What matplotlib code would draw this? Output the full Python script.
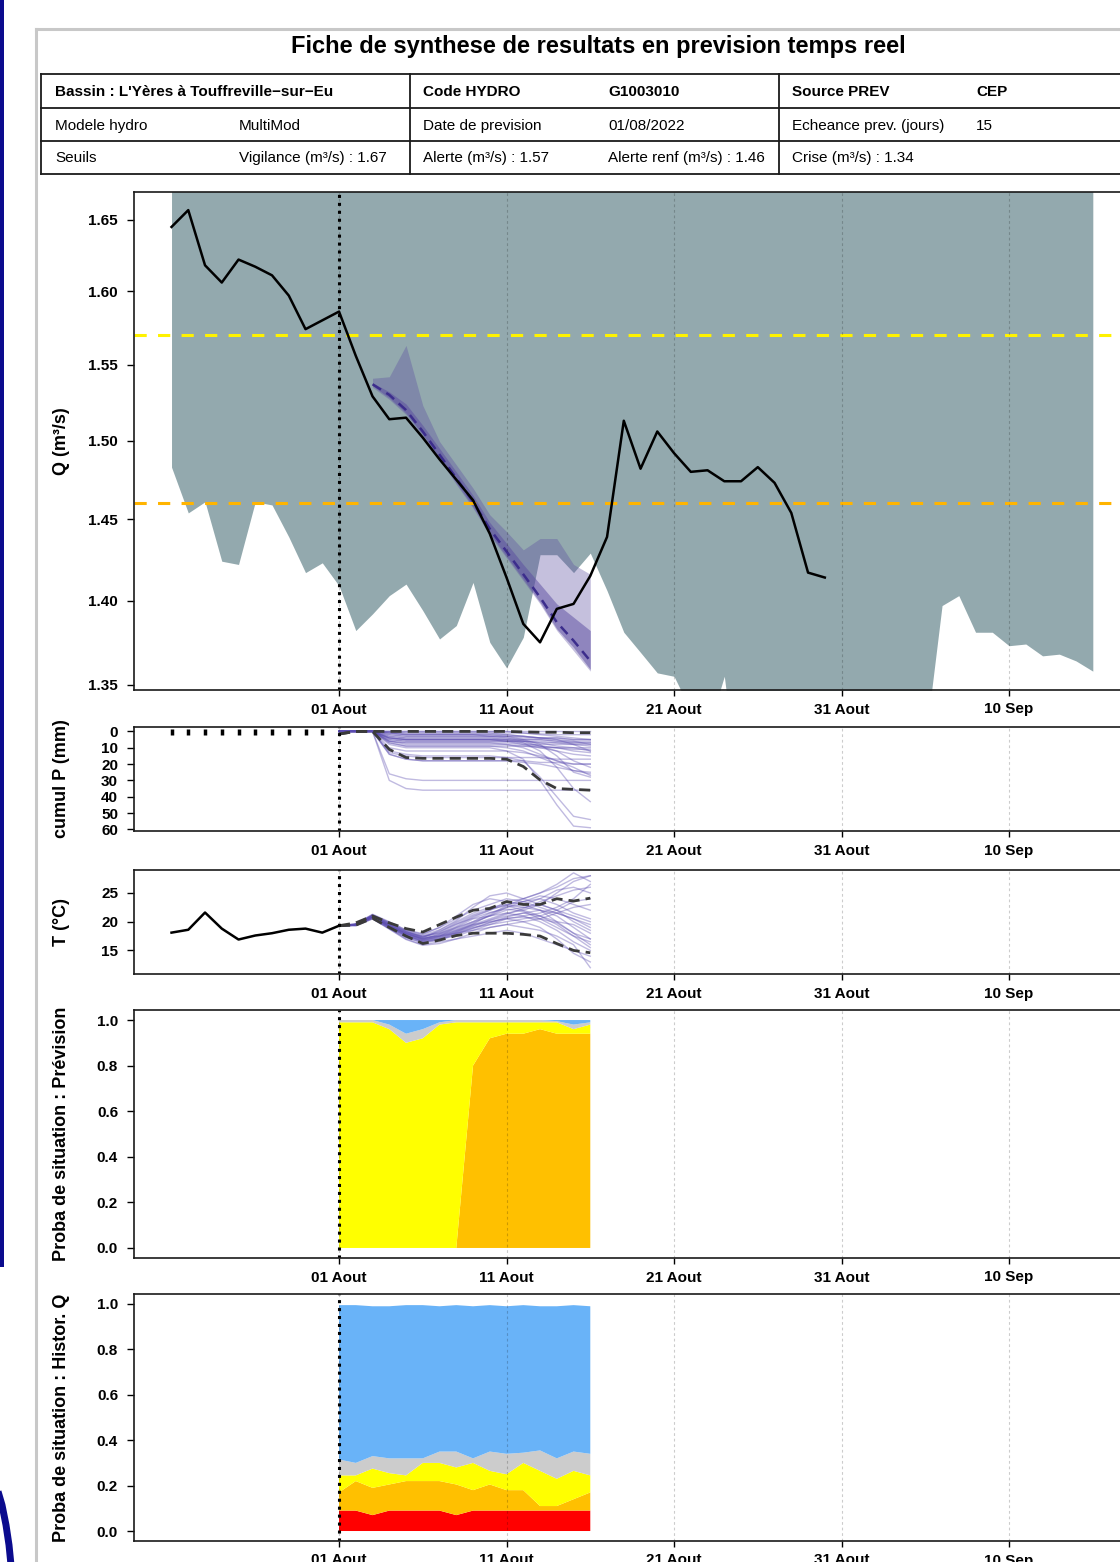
import numpy as np
import matplotlib
matplotlib.use('Agg')
import matplotlib.pyplot as plt
from matplotlib.lines import Line2D
from matplotlib.patches import Rectangle
from matplotlib.ticker import NullLocator

plt.rcParams['font.family'] = ['Liberation Sans', 'DejaVu Sans']

# ---------------- data ----------------
tick_days = [0, 10, 20, 30, 40]
tick_labels = ['01 Aout', '11 Aout', '21 Aout', '31 Aout', '10 Sep']

# observed discharge (days relative to 01 Aout)
days_obs_q = list(range(-10, 30))
q_obs = [1.645, 1.657, 1.618, 1.606, 1.622, 1.617, 1.611, 1.597, 1.574, 1.580,
         1.586, 1.556, 1.529, 1.514, 1.515, 1.502, 1.488, 1.475, 1.462, 1.441,
         1.414, 1.386, 1.375, 1.395, 1.398, 1.415, 1.439, 1.513, 1.482, 1.506,
         1.492, 1.480, 1.481, 1.474, 1.474, 1.483, 1.473, 1.454, 1.417, 1.414]

# historical envelope (lower limit; upper limit is above the frame)
days_env = list(range(-10, 46))
env_low = [1.483, 1.454, 1.461, 1.424, 1.422, 1.461, 1.459, 1.439, 1.417, 1.423,
           1.409, 1.382, 1.392, 1.403, 1.410, 1.394, 1.377, 1.385, 1.411, 1.375,
           1.360, 1.378, 1.428, 1.428, 1.417, 1.429, 1.406, 1.381, 1.369, 1.357,
           1.355, 1.335, 1.323, 1.355, 1.280, 1.290, 1.300, 1.290, 1.280, 1.300,
           1.310, 1.290, 1.300, 1.300, 1.310, 1.317, 1.397, 1.403, 1.381, 1.381,
           1.373, 1.374, 1.367, 1.368, 1.364, 1.358]
env_high = 1.80

# forecast discharge bands
days_fc = list(range(2, 16))
fc_median = [1.537, 1.530, 1.520, 1.506, 1.491, 1.476, 1.461, 1.444, 1.430, 1.416, 1.402, 1.387, 1.376, 1.364]
fc_in_hi = [1.538, 1.532, 1.524, 1.510, 1.495, 1.480, 1.465, 1.448, 1.435, 1.422, 1.410, 1.398, 1.390, 1.382]
fc_in_lo = [1.536, 1.528, 1.518, 1.504, 1.489, 1.473, 1.458, 1.441, 1.427, 1.413, 1.399, 1.383, 1.372, 1.359]
fc_out_hi = [1.541, 1.542, 1.563, 1.523, 1.4995, 1.4845, 1.4696, 1.4528, 1.4423, 1.431, 1.438, 1.438, 1.422, 1.416]
fc_out_lo = [1.535, 1.527, 1.517, 1.503, 1.488, 1.472, 1.457, 1.440, 1.426, 1.412, 1.398, 1.382, 1.370, 1.358]

q_alerte = 1.57
q_alerte_renf = 1.46

# cumulative precipitation
days_p_obs = list(range(-10, 0))
p_obs = [0.3, 0.3, 0.3, 0.3, 0.3, 0.3, 0.3, 0.3, 0.3, 0.3]
days_p = list(range(0, 16))
precip_members = [
    [0, 0, 0, 0, 0, 0, 0, 0, 0, 0, 0, 0, 0, 0, 0, 0],
    [0, 0, 0, 0.5, 1, 1, 1, 1, 1, 1, 1, 1, 1.5, 2, 2, 2],
    [0, 0, 0, 2, 3, 3, 3, 3, 3, 3, 3, 3, 4, 4, 5, 5],
    [0, 0, 0, 4, 5, 5, 5, 5, 5, 5, 5, 5, 5, 6, 6, 6],
    [0, 0, 0, 5, 6, 6, 6, 6, 6, 6, 6, 6, 7, 7, 7, 7],
    [0, 0, 0, 6, 7, 7, 7, 7, 7, 7, 7, 8, 8, 8, 8, 8],
    [0, 0, 0, 4, 5, 5, 5, 5, 5, 5, 6, 8, 10, 12, 14, 15],
    [0, 0, 0, 7, 9, 9, 9, 9, 9, 9, 9, 9, 10, 10, 10, 10],
    [0, 0, 0, 13, 15, 16, 16, 16, 16, 16, 16, 16, 16, 17, 17, 17],
    [0, 0, 0, 14, 17, 18, 18, 18, 18, 18, 18, 19, 20, 22, 24, 25],
    [0, 0, 0, 26, 29, 30, 30, 30, 30, 30, 30, 30, 30, 30, 30, 30],
    [0, 0, 0, 30, 35, 36, 36, 36, 36, 36, 36, 36, 36, 36, 36, 36],
    [0, 0, 0, 1, 2, 2, 2, 2, 2, 2, 3, 5, 8, 15, 25, 28],
    [0, 0, 0, 3, 4, 4, 4, 4, 4, 4, 5, 7, 12, 22, 35, 43],
    [0, 0, 0, 8, 10, 10, 10, 10, 10, 10, 12, 17, 30, 45, 58, 59],
    [0, 0, 0, 12, 14, 15, 15, 15, 15, 15, 16, 18, 28, 40, 52, 54],
    [0, 0, 0, 1, 2, 2, 2, 2, 2, 3, 4, 6, 9, 12, 18, 22],
    [0, 0, 0, 0, 1, 1, 1, 1, 1, 1, 2, 3, 4, 5, 8, 12],
    [0, 0, 0, 6, 7, 7, 7, 7, 7, 7, 8, 10, 14, 18, 20, 20],
    [0, 0, 0, 2, 3, 3, 3, 3, 3, 3, 3, 4, 4, 5, 6, 8],
    [0, 0, 0, 6, 8, 8, 8, 8, 8, 8, 8, 9, 9, 10, 12, 13],
    [0, 0, 0, 1, 2, 2, 2, 2, 2, 2, 2, 3, 4, 4, 5, 5],
    [0, 0, 0, 10, 12, 12, 12, 12, 12, 12, 12, 13, 15, 18, 22, 27],
    [0, 0, 0, 4, 5, 5, 5, 5, 5, 5, 5, 6, 7, 9, 10, 12],
    [0, 0, 0, 5, 6, 6, 6, 6, 6, 6, 6, 6, 6, 7, 8, 9],
    [0, 0, 0, 0, 0, 0, 0, 0, 0, 0, 0, 1, 2, 3, 4, 5],
    [0, 0, 0, 14, 17, 18, 18, 18, 18, 18, 18, 18, 19, 19, 20, 20],
    [0, 0, 0, 4, 5, 5, 5, 5, 5, 5, 6, 7, 9, 10, 11, 11],
    [0, 0, 0, 7, 9, 9, 9, 9, 9, 9, 10, 12, 16, 20, 24, 26],
    [0, 0, 0, 3, 4, 4, 4, 4, 4, 4, 4, 5, 5, 6, 7, 7],
]
p_q_low = [1.6, 0, 0, 0, 0, 0, 0, 0, 0, 0, 0, 0.3, 0.5, 0.5, 0.8, 0.8]
p_q_high = [1.6, 0, 0, 11, 16, 16.5, 16.5, 16.5, 16.5, 16.5, 17, 21.5, 29.7, 35, 35.5, 36]

# temperature
days_t_obs = list(range(-10, 1))
t_obs = [18.1, 18.6, 21.6, 18.8, 16.9, 17.6, 18.0, 18.6, 18.8, 18.1, 19.3]
days_t = list(range(0, 16))
temp_members = [
    [19.3, 19.5, 21.0, 19.5, 18.0, 17.0, 17.5, 18.5, 19.5, 20.5, 21.5, 22.0, 23.0, 25.0, 27.0, 28.0],
    [19.3, 19.4, 20.8, 19.0, 17.5, 16.5, 17.0, 18.0, 19.0, 19.5, 20.0, 20.5, 21.0, 22.0, 23.5, 24.0],
    [19.3, 19.6, 21.2, 19.8, 18.3, 17.2, 18.5, 20.0, 21.5, 22.5, 23.0, 22.5, 22.0, 21.0, 19.0, 17.0],
    [19.3, 19.5, 20.9, 19.2, 17.8, 16.8, 17.5, 19.0, 20.5, 21.0, 21.5, 21.0, 20.0, 18.5, 16.5, 15.0],
    [19.3, 19.3, 20.5, 18.8, 17.0, 16.0, 16.5, 17.0, 17.5, 18.0, 18.5, 18.0, 17.0, 16.0, 15.0, 14.0],
    [19.3, 19.5, 21.0, 19.6, 18.2, 17.5, 18.0, 19.5, 21.0, 22.0, 23.5, 24.0, 25.0, 26.5, 28.5, 27.0],
    [19.3, 19.4, 20.7, 19.3, 18.0, 17.0, 17.8, 18.8, 20.0, 21.5, 22.5, 23.0, 22.0, 20.0, 18.0, 16.0],
    [19.3, 19.6, 21.3, 20.0, 18.5, 17.8, 19.0, 20.5, 22.0, 23.0, 24.0, 23.5, 22.5, 21.5, 20.5, 19.5],
    [19.3, 19.5, 20.8, 19.1, 17.6, 16.6, 17.0, 17.5, 18.5, 19.5, 20.5, 21.0, 21.5, 22.5, 24.0, 26.5],
    [19.3, 19.4, 20.6, 18.9, 17.3, 16.3, 16.8, 17.8, 18.8, 19.8, 20.8, 21.5, 21.0, 19.5, 17.5, 15.5],
    [19.3, 19.5, 21.1, 19.7, 18.4, 17.6, 18.6, 20.2, 22.5, 24.5, 25.0, 24.0, 23.0, 22.0, 21.0, 20.0],
    [19.3, 19.5, 20.9, 19.4, 18.0, 17.2, 17.5, 18.0, 18.5, 19.0, 19.5, 20.0, 20.5, 21.5, 22.5, 23.0],
    [19.3, 19.4, 20.8, 19.2, 17.8, 16.9, 17.2, 18.2, 19.5, 20.0, 20.5, 20.0, 19.0, 17.0, 14.5, 13.0],
    [19.3, 19.6, 21.2, 19.9, 18.6, 17.9, 19.0, 21.0, 23.0, 24.0, 23.5, 23.0, 24.0, 25.5, 26.0, 25.0],
    [19.3, 19.5, 21.0, 19.5, 18.1, 17.3, 18.0, 19.0, 20.0, 21.0, 22.0, 22.5, 23.0, 22.0, 20.0, 18.5],
    [19.3, 19.3, 20.5, 18.7, 16.9, 15.9, 16.2, 17.0, 18.0, 19.0, 19.5, 19.0, 18.5, 17.5, 16.0, 12.0],
    [19.3, 19.5, 20.9, 19.3, 17.9, 17.0, 17.8, 19.2, 20.8, 22.0, 23.0, 23.5, 24.5, 24.0, 23.0, 22.0],
    [19.3, 19.4, 20.7, 19.0, 17.5, 16.7, 17.3, 18.3, 19.3, 20.3, 21.3, 22.3, 23.5, 24.5, 25.5, 26.0],
    [19.3, 19.6, 21.1, 19.8, 18.3, 17.4, 18.2, 19.8, 21.2, 22.2, 22.8, 22.0, 21.0, 20.0, 19.5, 18.0],
    [19.3, 19.5, 21.0, 19.4, 17.9, 17.1, 17.6, 18.6, 19.8, 21.0, 22.5, 23.5, 24.0, 23.0, 21.5, 20.5],
    [19.3, 19.4, 20.8, 19.1, 17.6, 16.6, 17.1, 18.1, 19.2, 20.2, 21.0, 21.5, 22.0, 21.5, 20.5, 19.0],
    [19.3, 19.5, 21.0, 19.6, 18.2, 17.4, 18.3, 19.6, 20.6, 21.6, 22.2, 21.8, 20.5, 19.0, 17.5, 16.5],
    [19.3, 19.5, 20.9, 19.3, 17.7, 16.8, 17.4, 18.4, 19.6, 21.2, 22.8, 24.0, 25.0, 26.0, 27.5, 28.0],
    [19.3, 19.4, 20.6, 18.8, 17.2, 16.4, 16.9, 17.9, 18.9, 19.9, 20.6, 20.8, 20.5, 19.8, 18.0, 17.0],
]
t_q_high = [19.3, 19.8, 21.0, 19.8, 18.8, 18.2, 19.5, 20.8, 22.0, 22.3, 23.5, 23.0, 23.0, 24.0, 23.6, 24.1]
t_q_low = [19.3, 19.4, 20.6, 19.0, 17.5, 16.2, 16.8, 17.6, 18.0, 18.0, 18.0, 17.8, 17.5, 16.2, 15.0, 14.6]

# probability of situation (forecast)
days_prob = list(range(0, 16))
prev_red = [0, 0, 0, 0, 0, 0, 0, 0, 0, 0, 0, 0, 0, 0, 0, 0]
prev_orange = [0, 0, 0, 0, 0, 0, 0, 0, 0.80, 0.92, 0.94, 0.94, 0.96, 0.94, 0.94, 0.94]
prev_yellow = [0.99, 0.99, 0.99, 0.96, 0.90, 0.92, 0.98, 0.99, 0.19, 0.07, 0.05, 0.05, 0.03, 0.05, 0.02, 0.04]
prev_gray = [0.01, 0.01, 0.01, 0.02, 0.04, 0.04, 0.01, 0.01, 0.01, 0.01, 0.01, 0.01, 0.01, 0.005, 0.02, 0.01]
prev_blue = [0, 0, 0, 0.02, 0.06, 0.04, 0.01, 0, 0, 0, 0, 0, 0, 0.005, 0.02, 0.01]

# probability of situation (historical Q)
hist_red = [0.09, 0.09, 0.07, 0.09, 0.09, 0.09, 0.09, 0.07, 0.09, 0.09, 0.09, 0.09, 0.09, 0.09, 0.09, 0.09]
hist_orange = [0.08, 0.13, 0.12, 0.115, 0.13, 0.13, 0.13, 0.135, 0.09, 0.115, 0.09, 0.09, 0.02, 0.02, 0.05, 0.08]
hist_yellow = [0.075, 0.025, 0.085, 0.05, 0.025, 0.08, 0.08, 0.075, 0.12, 0.06, 0.07, 0.12, 0.155, 0.12, 0.125, 0.075]
hist_gray = [0.07, 0.055, 0.055, 0.065, 0.075, 0.02, 0.05, 0.07, 0.02, 0.085, 0.09, 0.045, 0.09, 0.09, 0.085, 0.095]
hist_blue = [0.68, 0.695, 0.66, 0.67, 0.675, 0.675, 0.64, 0.645, 0.67, 0.645, 0.65, 0.65, 0.635, 0.67, 0.645, 0.65]

sit_colors = ['#FF0000', '#FFC000', '#FFFF00', '#CCCCCC', '#69B3F8']

# ---------------- figure ----------------
W, H = 1120, 1562
fig = plt.figure(figsize=(W / 100, H / 100), dpi=100)
fig.patch.set_facecolor('white')

def fx(px):
    return px / W

def fy(py):
    return 1 - py / H

def fline(x0, y0, x1, y1, **kw):
    fig.add_artist(Line2D([fx(x0), fx(x1)], [fy(y0), fy(y1)], transform=fig.transFigure, **kw))

# page decorations
fig.add_artist(Rectangle((0, fy(1267)), fx(4), 1267 / H, transform=fig.transFigure,
                         color='#0B0B8E', lw=0))
fig.add_artist(Line2D([fx(-3), fx(2), fx(6), fx(9), fx(11)],
                      [fy(1488), fy(1505), fy(1525), fy(1545), fy(1565)],
                      transform=fig.transFigure, color='#0B0B8E', lw=5))
fline(36, 29, 1125, 29, color='#C8C8C8', lw=2.2)
fline(36, 29, 36, 1565, color='#C8C8C8', lw=2.2)

fig.text(fx(598), fy(46), 'Fiche de synthese de resultats en prevision temps reel',
         ha='center', va='center', fontsize=17, fontweight='bold')

# header table
tab_kw = dict(color='#1A1A1A', lw=1.3)
for yy in [74, 108, 141, 174]:
    fline(41, yy, 1150, yy, **tab_kw)
for xx in [41, 410, 779, 1148]:
    fline(xx, 74, xx, 174, **tab_kw)
rows = [
    (92, [(55, "Bassin : L'Yères à Touffreville\u2212sur\u2212Eu"), (423, 'Code HYDRO'), (608, 'G1003010'),
          (792, 'Source PREV'), (976, 'CEP')], 'bold'),
    (126, [(55, 'Modele hydro'), (239, 'MultiMod'), (423, 'Date de prevision'), (608, '01/08/2022'),
           (792, 'Echeance prev. (jours)'), (976, '15')], 'normal'),
    (158, [(55, 'Seuils'), (239, 'Vigilance (m³/s) : 1.67'), (423, 'Alerte (m³/s) : 1.57'),
           (608, 'Alerte renf (m³/s) : 1.46'), (792, 'Crise (m³/s) : 1.34')], 'normal'),
]
for yy, items, w in rows:
    for xx, txt in items:
        fig.text(fx(xx), fy(yy), txt, ha='left', va='center', fontsize=11, fontweight=w)

LEFT, RIGHT = 134, 1130

def add_ax(top, bottom):
    return fig.add_axes([fx(LEFT), fy(bottom), fx(RIGHT - LEFT), (bottom - top) / H])

ax1 = add_ax(192, 690)
ax2 = add_ax(727, 831)
ax3 = add_ax(870, 974)
ax4 = add_ax(1010, 1258)
ax5 = add_ax(1294, 1541)
axes = [ax1, ax2, ax3, ax4, ax5]

for ax in axes:
    ax.set_xlim(-12.24, 47.22)
    ax.set_xticks(tick_days)
    ax.set_xticklabels(tick_labels, fontsize=11, fontweight='bold')
    ax.tick_params(axis='x', direction='out', length=4.5, width=1, pad=4.5)
    ax.tick_params(axis='y', direction='out', length=5, width=1, pad=6.5, labelsize=11)
    for s in ax.spines.values():
        s.set_linewidth(1.2)
        s.set_color('#1A1A1A')
        s.set_zorder(20)
    for d in tick_days:
        ax.axvline(d, color='k', alpha=0.2, lw=0.8, ls=(0, (2.5, 2.5)), zorder=6)
    ax.axvline(0, color='k', lw=2.2, ls=(0, (1, 1.6)), zorder=12)

# ---- panel 1 : discharge ----
ax1.set_yscale('log')
ax1.set_ylim(1.347, 1.670)
ax1.fill_between(days_env, env_low, env_high, color='#93A9AE', lw=0, zorder=1)
ax1.fill_between(days_fc, fc_out_lo, fc_out_hi, color='#5A4BA0', alpha=0.35, lw=0, zorder=2)
ax1.fill_between(days_fc, fc_in_lo, fc_in_hi, color='#5A4BA0', alpha=0.5, lw=0, zorder=3)
ax1.plot(days_fc, fc_median, color='#3C2D8C', lw=1.8, ls=(0, (4, 2.5)), zorder=4)
ax1.axhline(q_alerte, color='#FFF200', lw=2.2, ls=(0, (4, 3.7)), zorder=5)
ax1.axhline(q_alerte_renf, color='#FFB400', lw=2.2, ls=(0, (4, 3.7)), zorder=5)
ax1.plot(days_obs_q, q_obs, color='black', lw=1.8, zorder=8)
qt = [1.35, 1.40, 1.45, 1.50, 1.55, 1.60, 1.65]
ax1.set_yticks(qt)
ax1.set_yticklabels([f'{v:.2f}' for v in qt], fontweight='bold', fontsize=11)
ax1.yaxis.set_minor_locator(NullLocator())

# ---- panel 2 : precipitation ----
ax2.set_ylim(61.0, -2.7)
for m in precip_members:
    ax2.plot(days_p, m, color='#5A4BB0', alpha=0.38, lw=1, zorder=3)
ax2.plot(days_p, p_q_low, color='#3A3A3A', lw=2, ls=(0, (4, 2.2)), zorder=7)
ax2.plot(days_p, p_q_high, color='#3A3A3A', lw=2, ls=(0, (4, 2.2)), zorder=7)
ax2.plot(days_p_obs, p_obs, ls='none', marker='|', ms=5, mew=2.5, color='black', zorder=8)
ax2.set_yticks([0, 10, 20, 30, 40, 50, 60])
ax2.set_yticklabels(['0', '10', '20', '30', '40', '50', '60'], fontweight='bold', fontsize=11)

# ---- panel 3 : temperature ----
ax3.set_ylim(10.9, 29.0)
for m in temp_members:
    ax3.plot(days_t, m, color='#5A4BB0', alpha=0.38, lw=1, zorder=3)
ax3.plot(days_t, t_q_high, color='#3A3A3A', lw=2, ls=(0, (4, 2.2)), zorder=7)
ax3.plot(days_t, t_q_low, color='#3A3A3A', lw=2, ls=(0, (4, 2.2)), zorder=7)
ax3.plot(days_t_obs, t_obs, color='black', lw=1.8, zorder=8)
ax3.set_yticks([15, 20, 25])
ax3.set_yticklabels(['15', '20', '25'], fontweight='bold', fontsize=11)

# ---- panels 4-5 : situation probabilities ----
ax4.stackplot(days_prob, prev_red, prev_orange, prev_yellow, prev_gray, prev_blue,
              colors=sit_colors, lw=0, edgecolor='none', zorder=2)
ax5.stackplot(days_prob, hist_red, hist_orange, hist_yellow, hist_gray, hist_blue,
              colors=sit_colors, lw=0, edgecolor='none', zorder=2)
pt = [0.0, 0.2, 0.4, 0.6, 0.8, 1.0]
for ax in (ax4, ax5):
    ax.set_ylim(-0.044, 1.044)
    ax.set_yticks(pt)
    ax.set_yticklabels([f'{v:.1f}' for v in pt], fontweight='bold', fontsize=11)

# y labels
ylabs = [('Q (m³/s)', 441), ('cumul P (mm)', 779), ('T (°C)', 922),
         ('Proba de situation : Prévision', 1134), ('Proba de situation : Histor. Q', 1418)]
for txt, yc in ylabs:
    fig.text(fx(61), fy(yc), txt, rotation=90, ha='center', va='center',
             fontsize=13, fontweight='bold')

fig.savefig('out.png', dpi=100)
